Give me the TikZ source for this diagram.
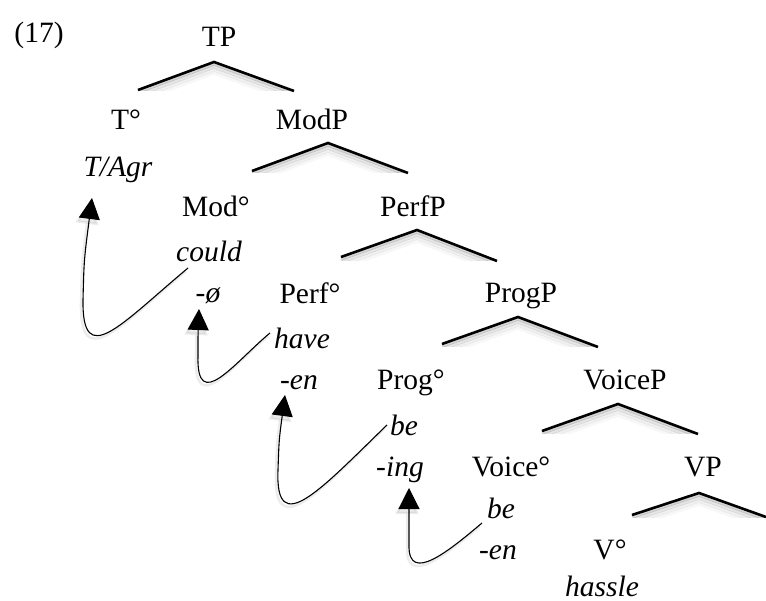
\documentclass[tikz,border=0pt]{standalone}
\usepackage{fontspec}
\setmainfont{Liberation Serif}
\usetikzlibrary{arrows.meta}
\newcommand{\mytri}[6]{%
  \begin{scope}
    \clip ({#3-6},{#2-4}) rectangle ({#5+6},{#6});
    \foreach \k/\o in {2/0.16,5/0.10,8/0.06,11/0.03}{
      \draw[trishadow, opacity=\o] ({#3},{#4+\k}) -- ({#1},{#2+\k}) -- ({#5},{#6+\k});
    }
  \end{scope}
  \draw[mybranch] (#3,#4) -- (#1,#2) -- (#5,#6);
}
\begin{document}
\begin{tikzpicture}[x=1pt,y=-1pt,
  lab/.style={anchor=base, inner sep=0pt, font=\fontsize{29.5}{31}\selectfont},
  itl/.style={anchor=base, inner sep=0pt, font=\fontsize{29.5}{31}\selectfont\itshape},
  mybranch/.style={line width=2.6pt, line join=miter, line cap=butt},
  trishadow/.style={line width=3.5pt, draw=black},
  mv/.style={line width=1.1pt, -{Triangle[length=21pt,width=21pt]}},
  mvshadow/.style={line width=2.5pt, draw=black!60, opacity=0.12, -{Triangle[length=23pt,width=23pt]}, transform canvas={shift={(-2pt,-3pt)}}}
]
\useasboundingbox (0,0) rectangle (766,601);

% labels
\node[lab] (n17) at (39,43) {(17)};
\node[lab] (TP) at (219,47) {TP};
\node[lab] (T) at (126,130) {T°};
\node[lab] (ModP) at (312,130) {ModP};
\node[itl] (TAgr) at (118,177) {T/Agr};
\node[lab] (Mod) at (216,217) {Mod°};
\node[lab] (PerfP) at (413,217) {PerfP};
\node[itl] (could) at (209,262) {could};
\node[itl] (nul) at (208,303) {-ø};
\node[lab] (Perf) at (310,304) {Perf°};
\node[lab] (ProgP) at (521,303) {ProgP};
\node[itl] (have) at (302,349) {have};
\node[itl] (en1) at (299,390) {-en};
\node[lab] (Prog) at (411,390) {Prog°};
\node[lab] (VoiceP) at (625,390) {VoiceP};
\node[itl] (be1) at (404,436) {be};
\node[itl] (ing) at (400,476) {-ing};
\node[lab] (Voice) at (511,477) {Voice°};
\node[lab] (VP) at (703,477) {VP};
\node[itl] (be2) at (501,518) {be};
\node[itl] (en2) at (498,559) {-en};
\node[lab] (V) at (610,559) {V°};
\node[itl] (hassle) at (602,596) {hassle};

% branching triangles
\mytri{214}{62}{138}{90}{294}{91}
\mytri{328}{143}{252}{171}{408}{173}
\mytri{417}{230}{341}{257}{497}{261}
\mytri{518}{317}{442}{344}{598}{347}
\mytri{618}{404}{542}{431}{698}{434}
\mytri{699}{493}{632}{515}{766}{517}

% movement arrows
\coordinate (s1) at (188,268); \coordinate (t1) at (92,198);
\coordinate (s2) at (270,333); \coordinate (t2) at (199,309);
\coordinate (s3) at (387,425); \coordinate (t3) at (285,395);
\coordinate (s4) at (482,523); \coordinate (t4) at (409,488);

\draw[mvshadow] (s1) .. controls (120,325) and (82,370) .. (83,300) .. controls (84,260) .. (t1);
\draw[mvshadow] (s2) .. controls (235,362) and (196,415) .. (198,355) .. controls (198,335) .. (t2);
\draw[mvshadow] (s3) .. controls (320,490) and (275,540) .. (278,470) .. controls (279,440) .. (t3);
\draw[mvshadow] (s4) .. controls (450,550) and (408,585) .. (409,545) .. controls (409,520) .. (t4);

\draw[mv] (s1) .. controls (120,325) and (82,370) .. (83,300) .. controls (84,260) .. (t1);
\draw[mv] (s2) .. controls (235,362) and (196,415) .. (198,355) .. controls (198,335) .. (t2);
\draw[mv] (s3) .. controls (320,490) and (275,540) .. (278,470) .. controls (279,440) .. (t3);
\draw[mv] (s4) .. controls (450,550) and (408,585) .. (409,545) .. controls (409,520) .. (t4);
\end{tikzpicture}
\end{document}
